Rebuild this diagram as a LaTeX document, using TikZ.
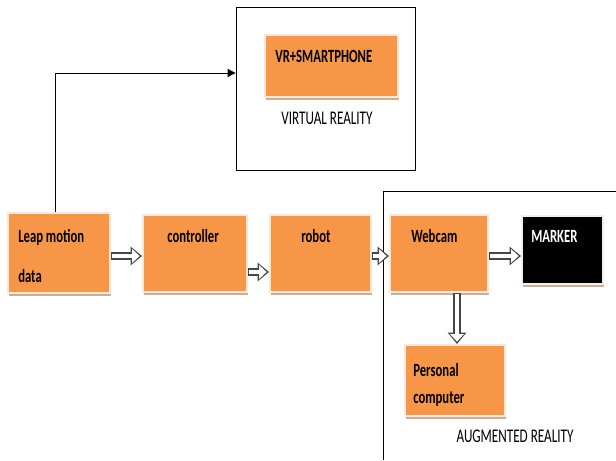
\documentclass[tikz,border=0pt]{standalone}
\usepackage{fontspec}
\setmainfont{Carlito}
\newfontfamily\narrowfont[FakeStretch=0.68]{Carlito}
\usetikzlibrary{arrows.meta,shadows}
\definecolor{boxorange}{HTML}{F79646}
\definecolor{boxrim}{HTML}{FCE8D8}
\definecolor{boxshade}{HTML}{CDAE94}
\tikzset{
  block/.style={rectangle, fill=boxorange, draw=boxrim, line width=1.5pt, inner sep=0pt,
    drop shadow={shadow xshift=0.5pt, shadow yshift=-2.5pt, fill=boxshade, opacity=1}},
  blocktext/.style={font=\narrowfont\bfseries\fontsize{14}{30}\selectfont, inner sep=0pt, align=left},
  caption/.style={font=\narrowfont\fontsize{14.5}{17}\selectfont, inner sep=0pt},
  hollow/.style={draw=gray!55!black, line width=5.6pt, -{Triangle[length=8.5pt,width=14pt,line width=0pt]},
    postaction={draw=white, line width=3.6pt, shorten <=1pt, shorten >=1.8pt,
      -{Triangle[length=5.7pt,width=10.6pt,line width=0pt]}}},
  frame/.style={draw=black, line width=0.6pt}
}
\begin{document}
\begin{tikzpicture}[x=0.75pt, y=-0.75pt]
  \useasboundingbox (0,0) rectangle (616,460);

  % Virtual reality part
  \node[frame, minimum width=134.25pt, minimum height=122.25pt] (vrframe) at (325.5,88.5) {};
  \node[block, minimum width=99.75pt, minimum height=46.5pt] (vr) at (331.5,66) {};
  \node[blocktext, anchor=base west] (vrtext) at (275,62) {VR+SMARTPHONE};
  \node[caption, anchor=base] (vrcaption) at (327,124) {VIRTUAL REALITY};

  % Main chain
  \node[block, minimum width=76.5pt, minimum height=60pt] (leap) at (59,253) {};
  \node[block, minimum width=78pt, minimum height=57.75pt] (ctrl) at (195,253.5) {};
  \node[block, minimum width=75.75pt, minimum height=57.75pt] (robot) at (320.5,253.5) {};
  \node[block, minimum width=73.5pt, minimum height=57.75pt] (webcam) at (439,253.5) {};
  \node[block, fill=black, draw=gray!12, minimum width=60.75pt, minimum height=51pt] (marker) at (562.5,250) {};
  \node[block, minimum width=75pt, minimum height=53.25pt] (pc) at (455,380.5) {};

  \node[blocktext, anchor=north west] (leaptext) at (18,229) {Leap motion\\data};
  \node[blocktext, anchor=base west] (ctrltext) at (167,242) {controller};
  \node[blocktext, anchor=base west] (robottext) at (301,242) {robot};
  \node[blocktext, anchor=base west] (webcamtext) at (411,242) {Webcam};
  \node[blocktext, anchor=base west, text=white] (markertext) at (531,242) {MARKER};
  \node[blocktext, anchor=north west, font=\narrowfont\bfseries\fontsize{14}{20}\selectfont] (pctext) at (413,363) {Personal\\computer};

  % Augmented reality frame
  \draw[frame] (383,460) |- (616,191);
  \node[caption, anchor=base] (arcaption) at (515,442) {AUGMENTED REALITY};

  % Connectors
  \draw[-{Triangle[length=6pt,width=6pt]}, line width=0.7pt] ([xshift=-3pt]leap.north) |- (vrframe.west |- 0,73);
  \draw[hollow] (leap.east |- 0,256) -- (ctrl.west |- 0,256);
  \draw[hollow] (ctrl.east |- 0,272) -- (robot.west |- 0,272);
  \draw[hollow] (robot.east |- 0,256) -- (webcam.west |- 0,256);
  \draw[hollow] (webcam.east |- 0,256) -- (marker.west |- 0,256);
  \draw[hollow] (webcam.south -| 457,0) -- (pc.north -| 457,0);
\end{tikzpicture}
\end{document}
